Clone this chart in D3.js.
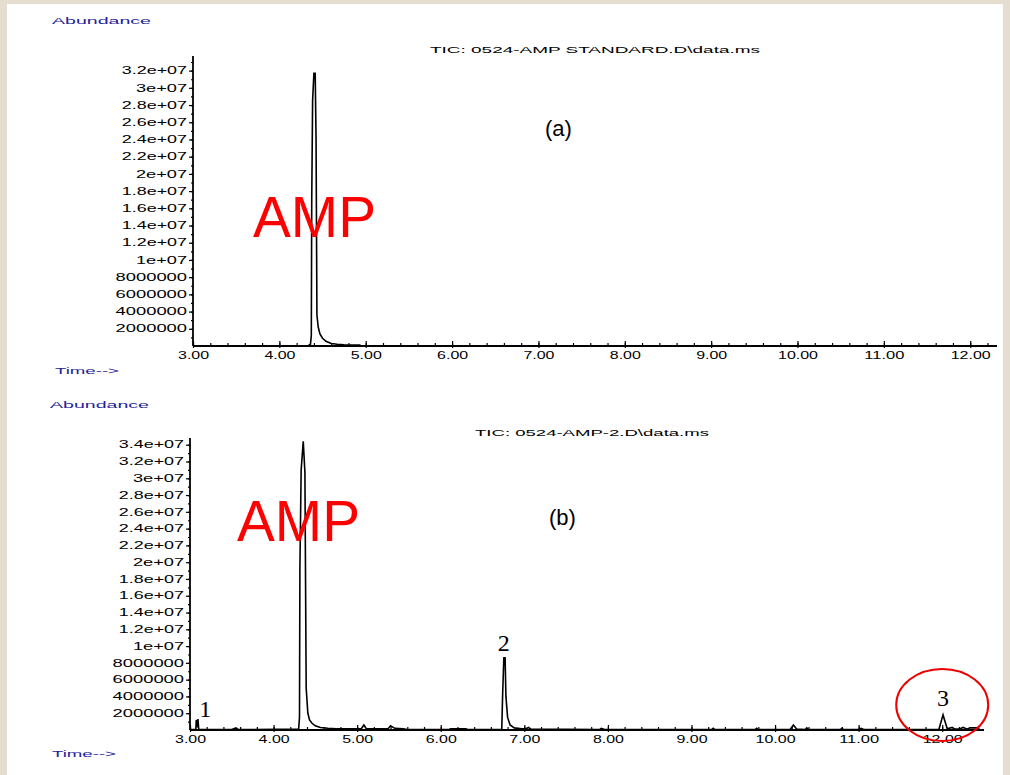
<!DOCTYPE html>
<html>
<head>
<meta charset="utf-8">
<script src="https://cdn.jsdelivr.net/npm/d3@7"></script>
<style>
  html, body { margin: 0; padding: 0; background: #e6ddd1; }
  svg { display: block; }
</style>
</head>
<body>
<svg id="chart" width="1010" height="775"></svg>
<script>
// --- data (time in min, abundance in counts) ---
const topTime  = [4.33, 4.36, 4.37, 4.375, 4.385, 4.40, 4.415, 4.425, 4.435, 4.45, 4.47, 4.50, 4.54, 4.60, 4.67, 4.75, 4.85, 4.93, 4.95];
const topAbund = [0, 0.2e6, 1.2e6, 17.0e6, 28.5e6, 31.7e6, 31.7e6, 24.0e6, 3.6e6, 2.2e6, 1.4e6, 0.9e6, 0.55e6, 0.3e6, 0.2e6, 0.15e6, 0.12e6, 0.1e6, 0];

const botTime  = [3.00, 3.07, 3.075, 3.085, 3.095, 3.105, 3.50, 3.55, 3.58,
                  4.30, 4.31, 4.315, 4.33, 4.355, 4.375, 4.39, 4.41, 4.43, 4.46, 4.50, 4.56, 4.65, 4.75,
                  5.05, 5.08, 5.11, 5.37, 5.40, 5.45, 5.55, 5.60, 6.10, 6.12, 6.30, 6.32,
                  6.73, 6.74, 6.755, 6.77, 6.78, 6.80, 6.83, 6.88, 6.97, 7.02, 7.05, 7.08,
                  7.90, 7.92, 7.96, 9.24, 9.26, 9.28, 9.76, 9.78, 9.80, 10.18, 10.22, 10.26,
                  10.36, 10.38, 10.40, 10.78, 10.80, 10.82, 11.00, 11.03, 11.06,
                  11.96, 12.01, 12.06, 12.12, 12.15, 12.2, 12.25, 12.3, 12.33, 12.42, 12.45];
const botAbund = [0.05e6, 0.05e6, 1.2e6, 0.3e6, 1.3e6, 0.05e6, 0.05e6, 0.25e6, 0.05e6,
                  0.1e6, 1.5e6, 19.3e6, 31.0e6, 34.4e6, 30.7e6, 5.0e6, 2.0e6, 1.2e6, 0.8e6, 0.5e6, 0.3e6, 0.2e6, 0.15e6,
                  0.15e6, 0.6e6, 0.15e6, 0.15e6, 0.5e6, 0.2e6, 0.15e6, 0.05e6, 0.05e6, 0.15e6, 0.15e6, 0.05e6,
                  0.05e6, 4.0e6, 8.6e6, 8.6e6, 4.0e6, 1.5e6, 0.6e6, 0.25e6, 0.15e6, 0.15e6, 0.3e6, 0.1e6,
                  0.05e6, 0.2e6, 0.05e6, 0.05e6, 0.2e6, 0.05e6, 0.05e6, 0.2e6, 0.05e6, 0.05e6, 0.6e6, 0.1e6,
                  0.05e6, 0.25e6, 0.05e6, 0.05e6, 0.2e6, 0.05e6, 0.05e6, 0.2e6, 0.05e6,
                  0.05e6, 1.8e6, 0.15e6, 0.3e6, 0.1e6, 0.1e6, 0.3e6, 0.1e6, 0.25e6, 0.25e6, 0.05e6];

const xTicks    = [3, 4, 5, 6, 7, 8, 9, 10, 11, 12];
const topYTicks = d3.range(2e6, 32e6 + 1, 2e6);
const botYTicks = d3.range(2e6, 34e6 + 1, 2e6);

const blue = "#22229a";
const svg = d3.select("#chart");

// white sheet over beige frame
svg.append("rect").attr("x", 7).attr("y", 4).attr("width", 996).attr("height", 771).attr("fill", "#fff");

// chemstation-style wide text: stretch to a width computed from characters
function wideLen(s, digit, dot) {
  let w = 0;
  for (const c of s) w += (c === "." ? dot : digit);
  return w;
}
function yFmt(v) {
  return v >= 1e7 ? (v / 1e7) + "e+07" : String(v);
}

function drawPanel(cfg) {
  const g = svg.append("g");
  const x = d3.scaleLinear().domain(cfg.xDomain).range(cfg.xRange);
  const y = d3.scaleLinear().domain(cfg.yDomain).range(cfg.yRange);

  // x axis: minor ticks every 0.2
  const xa = g.append("g").attr("transform", `translate(0,${cfg.yRange[0]})`)
    .call(d3.axisBottom(x).tickValues(d3.range(3, cfg.xDomain[1], 0.2)).tickSize(-3).tickFormat(""));
  xa.select(".domain").remove();
  xa.selectAll("line").attr("stroke", "#000").attr("stroke-width", 1.2);

  const xm = g.append("g").attr("transform", `translate(0,${cfg.yRange[0]})`)
    .call(d3.axisBottom(x).tickValues(xTicks).tickSize(2).tickPadding(3).tickFormat(d3.format(".2f")));
  xm.select(".domain").attr("stroke", "#000").attr("stroke-width", 1.8).attr("d", `M${cfg.xRange[0]},0H${cfg.xRange[1]}`);
  xm.selectAll("line").attr("y1", -5).attr("stroke", "#000").attr("stroke-width", 1.2);
  xm.selectAll("text")
    .attr("font-family", "Liberation Sans, Arial, sans-serif").attr("font-size", 10).attr("fill", "#000")
    .attr("dy", "0.75em")
    .each(function(d) {
      const s = d3.format(".2f")(d);
      d3.select(this).attr("textLength", wideLen(s, 9, 4)).attr("lengthAdjust", "spacingAndGlyphs");
    });

  // y axis: minor ticks every 1e6
  const ya = g.append("g").attr("transform", `translate(${cfg.xRange[0]},0)`)
    .call(d3.axisLeft(y).tickValues(d3.range(1e6, cfg.yDomain[1], 1e6)).tickSize(2).tickFormat(""));
  ya.select(".domain").remove();
  ya.selectAll("line").attr("stroke", "#000").attr("stroke-width", 1.2);

  const ym = g.append("g").attr("transform", `translate(${cfg.xRange[0]},0)`)
    .call(d3.axisLeft(y).tickValues(cfg.yTicks).tickSize(4).tickPadding(2).tickFormat(yFmt));
  ym.select(".domain").attr("stroke", "#000").attr("stroke-width", 1.8).attr("d", `M0,${cfg.yRange[0]}V${cfg.yRange[1]}`);
  ym.selectAll("line").attr("stroke", "#000").attr("stroke-width", 1.2);
  ym.selectAll("text")
    .attr("font-family", "Liberation Sans, Arial, sans-serif").attr("font-size", 10).attr("fill", "#000")
    .each(function(d) {
      const s = yFmt(d);
      d3.select(this).attr("textLength", wideLen(s, 10.2, 4)).attr("lengthAdjust", "spacingAndGlyphs");
    });

  // trace
  const pts = cfg.time.map((t, i) => [t, cfg.abund[i]]);
  g.append("path").datum(pts)
    .attr("fill", "none").attr("stroke", "#000").attr("stroke-width", 1.6).attr("stroke-linejoin", "miter")
    .attr("d", d3.line().x(d => x(d[0])).y(d => y(d[1])));

  // chemstation labels
  g.append("text").attr("x", cfg.abX).attr("y", cfg.abY).text("Abundance")
    .attr("font-family", "Liberation Sans, Arial, sans-serif").attr("font-size", 9).attr("fill", blue)
    .attr("textLength", 99).attr("lengthAdjust", "spacingAndGlyphs");
  g.append("text").attr("x", cfg.tmX).attr("y", cfg.tmY).text("Time-->")
    .attr("font-family", "Liberation Sans, Arial, sans-serif").attr("font-size", 9).attr("fill", blue)
    .attr("textLength", 64).attr("lengthAdjust", "spacingAndGlyphs");
  g.append("text").attr("x", cfg.titleX).attr("y", cfg.titleY).text(cfg.title)
    .attr("font-family", "Liberation Sans, Arial, sans-serif").attr("font-size", 9).attr("fill", "#000")
    .attr("textLength", cfg.titleW).attr("lengthAdjust", "spacingAndGlyphs");
  g.append("text").attr("x", cfg.tagX).attr("y", cfg.tagY).text(cfg.tag)
    .attr("font-family", "Liberation Sans, Arial, sans-serif").attr("font-size", 22).attr("fill", "#000");
  g.append("text").attr("x", cfg.ampX).attr("y", cfg.ampY).text("AMP")
    .attr("font-family", "Liberation Sans, Arial, sans-serif").attr("font-size", 57).attr("fill", "#f00")
    .attr("textLength", 123).attr("lengthAdjust", "spacingAndGlyphs");
  return { x, y, g };
}

drawPanel({
  xDomain: [3, 12.31], xRange: [193, 997],
  yDomain: [0, 33.7e6], yRange: [346, 56], yTicks: topYTicks,
  time: topTime, abund: topAbund,
  abX: 52, abY: 24, tmX: 55, tmY: 374,
  title: "TIC: 0524-AMP STANDARD.D\\data.ms", titleX: 430, titleY: 53, titleW: 330,
  tag: "(a)", tagX: 545, tagY: 136,
  ampX: 253, ampY: 237
});

const bot = drawPanel({
  xDomain: [3, 12.5], xRange: [190, 984],
  yDomain: [0, 34.8e6], yRange: [730, 438], yTicks: botYTicks,
  time: botTime, abund: botAbund,
  abX: 50, abY: 408, tmX: 52, tmY: 757,
  title: "TIC: 0524-AMP-2.D\\data.ms", titleX: 475, titleY: 436, titleW: 234,
  tag: "(b)", tagX: 549, tagY: 525,
  ampX: 237, ampY: 541
});

// peak numbers
const peakLabels = [{ t: 3.10, s: "1", dy: 717, dx: 7 }, { t: 6.755, s: "2", dy: 651, dx: 0 }, { t: 12.01, s: "3", dy: 706, dx: 0 }];
peakLabels.forEach(p => {
  bot.g.append("text").attr("x", bot.x(p.t) + p.dx).attr("y", p.dy).text(p.s)
    .attr("text-anchor", "middle")
    .attr("font-family", "Liberation Serif, Times New Roman, serif").attr("font-size", 24).attr("fill", "#000");
});
bot.g.append("ellipse").attr("cx", bot.x(12.0)).attr("cy", 705).attr("rx", 46).attr("ry", 36)
  .attr("fill", "none").attr("stroke", "#e00").attr("stroke-width", 2);
</script>
</body>
</html>
